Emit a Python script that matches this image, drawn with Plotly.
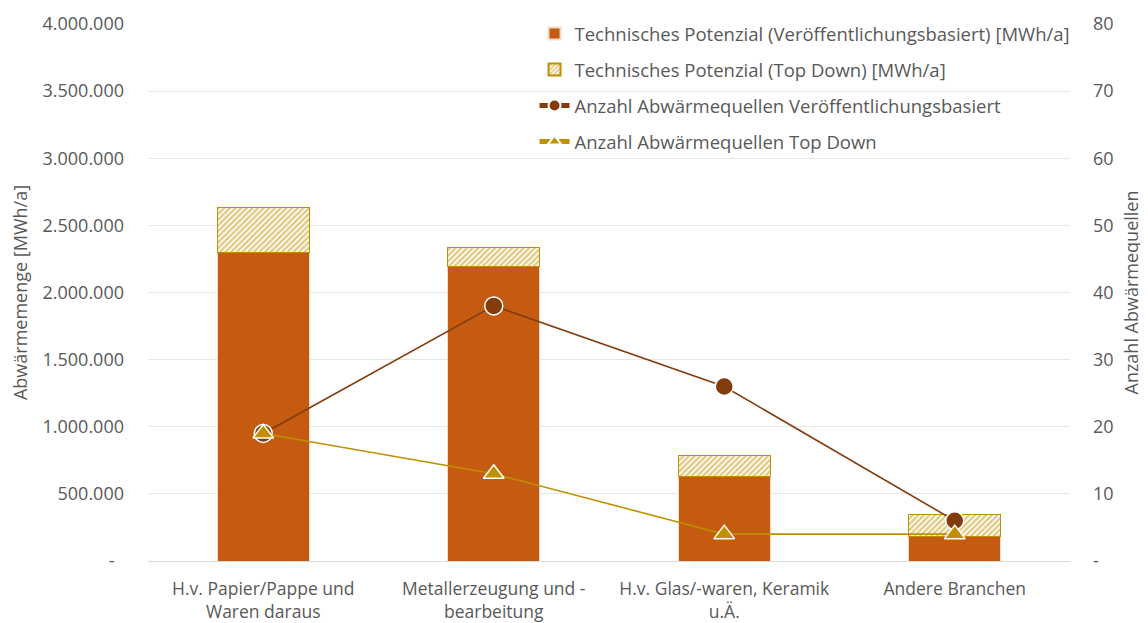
import plotly.graph_objects as go

categories = ["H.v. Papier/Pappe und<br>Waren daraus",
              "Metallerzeugung und -<br>bearbeitung",
              "H.v. Glas/-waren, Keramik<br>u.Ä.",
              "Andere Branchen"]
pot_veroeff = [2295000, 2190000, 628000, 180000]
pot_topdown_extra = [335000, 145000, 155000, 163000]
anz_veroeff = [19, 38, 26, 6]
anz_topdown = [19, 13, 4, 4]

left_tickvals = [0, 500000, 1000000, 1500000, 2000000, 2500000, 3000000, 3500000, 4000000]
left_ticktext = ["-" + "\u00a0" * 2, "500.000", "1.000.000", "1.500.000", "2.000.000",
                 "2.500.000", "3.000.000", "3.500.000", "4.000.000"]
right_tickvals = [0, 10, 20, 30, 40, 50, 60, 70, 80]
right_ticktext = ["-", "10", "20", "30", "40", "50", "60", "70", "80"]

ORANGE = "#C55A11"
GOLD = "#BF9000"
BROWN = "#843C0C"
GREY = "#595959"
FONT = "Open Sans"
FS = 18

fig = go.Figure()
fig.add_trace(go.Bar(
    x=categories, y=pot_veroeff,
    name="Technisches Potenzial (Veröffentlichungsbasiert) [MWh/a]",
    marker=dict(color=ORANGE, line=dict(color="#F4D9C6", width=1)),
    legendgroup="a"))
fig.add_trace(go.Bar(
    x=categories, y=pot_topdown_extra,
    name="Technisches Potenzial (Top Down) [MWh/a]",
    marker=dict(color="white", line=dict(color=GOLD, width=1),
                pattern=dict(shape="/", fgcolor=GOLD, bgcolor="white", size=4, solidity=0.55)),
    legendgroup="b"))
fig.add_trace(go.Scatter(
    x=categories, y=anz_veroeff, yaxis="y2", mode="lines+markers",
    name="Anzahl Abwärmequellen Veröffentlichungsbasiert",
    line=dict(color=BROWN, width=1.6),
    marker=dict(symbol="circle", size=18, color=BROWN, line=dict(color="white", width=1.5)),
    legendgroup="c"))
fig.add_trace(go.Scatter(
    x=categories, y=anz_topdown, yaxis="y2", mode="lines+markers",
    name="Anzahl Abwärmequellen Top Down",
    line=dict(color=GOLD, width=1.6),
    marker=dict(symbol="triangle-up", size=18, color=GOLD, line=dict(color="white", width=1.5)),
    legendgroup="d"))

fig.update_layout(
    width=1140, height=615,
    margin=dict(l=140, r=78, t=16, b=62, autoexpand=False),
    paper_bgcolor="white", plot_bgcolor="white",
    barmode="stack", bargap=0.6,
    font=dict(family=FONT, size=FS, color=GREY),
    showlegend=True,
    legend=dict(x=1.006, xanchor="right", y=1.017, yanchor="top",
                bgcolor="rgba(0,0,0,0)", font=dict(size=18.5, color=GREY),
                tracegroupgap=9, itemsizing="constant"),
    xaxis=dict(showgrid=False, showline=True, linecolor="#D9D9D9", linewidth=1, automargin=False,
               ticks="", ticklabelstandoff=12, tickfont=dict(size=17.5, color=GREY)),
    yaxis=dict(range=[0, 4000000], tickvals=left_tickvals, ticktext=left_ticktext, automargin=False,
               showgrid=True, gridcolor="#E6E6E6", gridwidth=1, zeroline=False,
               ticks="", ticklabelstandoff=23, tickfont=dict(size=FS, color=GREY),
               title=dict(text="Abwärmemenge [MWh/a]", font=dict(size=FS, color=GREY), standoff=11)),
    yaxis2=dict(range=[0, 80], tickvals=right_tickvals, ticktext=right_ticktext, automargin=False,
                overlaying="y", side="right", showgrid=False, zeroline=False,
                ticks="", ticklabelstandoff=22, tickfont=dict(size=FS, color=GREY),
                title=dict(text="Anzahl Abwärmequellen", font=dict(size=FS, color=GREY), standoff=12)),
)

fig.write_html("out.html")
